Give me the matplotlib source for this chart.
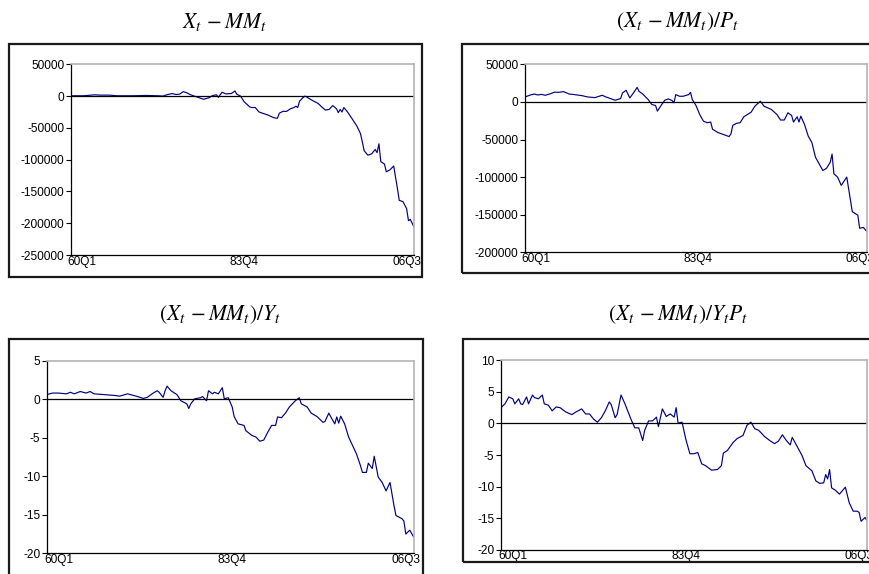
import numpy as np
import matplotlib.pyplot as plt
from matplotlib.patches import Rectangle

plt.rcParams['font.family'] = ['Liberation Sans', 'DejaVu Sans']
plt.rcParams['mathtext.fontset'] = 'stix'

W, H = 870, 574

# quarter index (0 = 60Q1 ... 186 = 06Q3) and values
q1 = [0, 7, 13, 16, 21, 25, 34, 41, 47, 50, 52, 55, 57, 59, 61, 63, 65, 68, 72, 75,
      77, 79, 80, 82, 84, 87, 89, 90, 92, 94, 97, 98, 100, 102, 104, 107, 110, 112,
      113, 115, 117, 119, 121, 122, 123, 124, 126, 127, 129, 131, 134, 136, 138, 140,
      142, 144, 145, 146, 147, 148, 150, 153, 155, 157, 158, 159, 161, 163, 165, 166,
      167, 168, 170, 171, 173, 175, 177, 178, 180, 182, 183, 184, 186]
v1 = [500, 500, 2000, 1500, 1500, 500, 500, 1000, 500, 0, 2000, 4000, 2500, 3000, 7000,
      5000, 2000, -1000, -5000, -2500, 1000, 2000, -2000, 6000, 3500, 4000, 8000, 3000,
      0, -9000, -17000, -18000, -18000, -25000, -27000, -30000, -34000, -35000, -27000,
      -24000, -24000, -20000, -18000, -16000, -18000, -8000, -2000, 0, -3500, -7000,
      -11500, -17000, -22000, -21000, -15000, -20000, -26000, -21000, -25000, -18000,
      -25000, -38000, -47000, -59000, -72000, -86000, -93000, -91000, -84000, -89000,
      -75000, -103000, -107000, -119000, -116000, -110000, -145000, -164000, -166000,
      -177000, -196000, -194000, -206000]

q2 = [0, 3, 5, 7, 9, 11, 14, 16, 18, 21, 24, 27, 31, 34, 38, 42, 44, 47, 49, 52, 53,
      55, 57, 59, 61, 62, 64, 67, 69, 71, 72, 74, 76, 78, 80, 81, 82, 84, 86, 89, 90,
      91, 93, 95, 97, 99, 101, 102, 105, 109, 111, 112, 113, 115, 117, 119, 121, 123,
      125, 127, 128, 130, 134, 137, 139, 141, 143, 145, 146, 148, 149, 150, 152, 154,
      156, 158, 160, 162, 164, 166, 167, 168, 170, 172, 175, 177, 178, 181, 182, 184, 186]
v2 = [6600, 9200, 10500, 9200, 10000, 8800, 11000, 13000, 12700, 13600, 10500, 9700,
      8300, 6600, 5700, 8800, 6600, 4000, 2200, 4400, 11900, 15400, 5300, 11900, 19300,
      14000, 10500, 3100, -3500, -4800, -12300, -4800, 2200, 4000, 1800, -1300, 9700,
      7500, 7500, 9700, 12700, 3100, -4800, -16700, -25500, -27700, -26800, -36400,
      -40800, -44300, -46100, -42600, -31200, -28500, -27700, -19800, -16700, -13600,
      -5700, -1300, 900, -5700, -10100, -16700, -24100, -24100, -14500, -18000, -26800,
      -19800, -26800, -18900, -29900, -45200, -54000, -73700, -82500, -91300, -88200,
      -80300, -69400, -95700, -100000, -111000, -100000, -130800, -146000, -150600,
      -168000, -167000, -172500]

q3 = [0, 3, 6, 10, 12, 14, 17, 20, 22, 24, 29, 34, 37, 41, 46, 49, 51, 54, 56, 57, 59,
      60, 61, 63, 66, 68, 71, 72, 73, 75, 78, 79, 81, 82, 84, 85, 87, 89, 90, 92, 94,
      95, 97, 100, 101, 104, 106, 108, 110, 112, 114, 116, 117, 119, 121, 123, 126,
      128, 129, 132, 134, 137, 140, 141, 143, 144, 146, 147, 148, 149, 151, 153, 155,
      157, 159, 160, 162, 163, 165, 166, 168, 170, 172, 174, 176, 177, 180, 181, 182,
      184, 186]
v3 = [0.6, 0.8, 0.8, 0.7, 0.9, 0.7, 1.0, 0.8, 1.0, 0.7, 0.6, 0.5, 0.4, 0.7, 0.35, 0.1,
      0.25, 0.8, 1.1, 0.9, 0.25, 1.1, 1.7, 1.1, 0.6, -0.2, -0.6, -1.2, -0.6, 0.05, 0.2,
      0.35, -0.2, 1.1, 0.7, 0.9, 0.7, 1.5, 0.05, 0.2, -1.0, -2.25, -3.2, -3.4, -4.1,
      -4.7, -4.9, -5.45, -5.3, -4.3, -3.4, -3.4, -2.3, -2.4, -1.8, -1.0, -0.2, 0.2, -0.6,
      -1.0, -1.8, -2.25, -3.0, -2.9, -1.8, -2.3, -3.2, -2.3, -3.1, -2.2, -3.2, -4.9,
      -6.0, -7.1, -8.6, -9.5, -9.5, -8.3, -9.0, -7.4, -10.1, -10.8, -11.9, -10.8, -13.8,
      -15.1, -15.5, -15.8, -17.5, -17.0, -17.9]

q4 = [0, 2, 4, 6, 7, 9, 10, 11, 13, 14, 16, 17, 19, 21, 22, 24, 26, 28, 30, 33, 36, 38,
      41, 43, 45, 47, 49, 51, 53, 55, 56, 58, 59, 61, 63, 65, 66, 68, 70, 72, 73, 75,
      77, 79, 80, 82, 84, 86, 88, 89, 90, 92, 94, 96, 98, 100, 102, 104, 107, 110, 112,
      113, 115, 118, 120, 123, 125, 127, 129, 131, 134, 137, 139, 141, 143, 145, 147,
      148, 150, 153, 155, 158, 160, 162, 164, 165, 166, 167, 168, 170, 172, 175, 177,
      179, 181, 182, 183, 185, 186]
v4 = [2.5, 3.1, 4.2, 3.9, 3.1, 3.9, 3.1, 3.0, 4.2, 3.1, 4.5, 4.1, 3.9, 4.5, 3.1, 2.9,
      2.0, 2.6, 2.5, 1.8, 1.4, 1.8, 2.3, 1.5, 1.5, 0.7, 0.2, 0.9, 2.0, 3.4, 3.0, 0.9,
      1.4, 4.5, 3.1, 1.5, 0.7, -0.7, -0.7, -2.7, -1.1, 0.4, 0.4, 1.0, -0.5, 2.3, 1.1,
      1.5, 1.0, 2.5, 0.05, 0.2, -2.6, -4.8, -4.8, -4.6, -6.4, -6.7, -7.4, -7.3, -6.7,
      -4.7, -4.3, -3.0, -2.4, -1.9, -0.3, 0.2, -0.85, -1.1, -2.1, -2.8, -3.2, -2.8, -1.8,
      -2.7, -3.4, -2.2, -3.35, -5.1, -6.7, -7.5, -9.1, -9.5, -9.4, -8.1, -8.8, -7.3,
      -10.2, -10.6, -11.2, -10.1, -12.6, -13.9, -13.9, -14.1, -15.5, -14.9, -15.4]

yt1 = [-250000, -200000, -150000, -100000, -50000, 0, 50000]
yt2 = [-200000, -150000, -100000, -50000, 0, 50000]
yt3 = [-20, -15, -10, -5, 0, 5]
yt4 = [-20, -15, -10, -5, 0, 5, 10]

x_labels = ['60Q1', '83Q4', '06Q3']
x_label_pos = [6, 94, 182]

titles = [r'$X_t\,-MM_t$', r'$(X_t\,-MM_t)/P_t$',
          r'$(X_t\,-MM_t)/Y_t$', r'$(X_t\,-MM_t)/Y_tP_t$']


def frac_rect(x0, y0, x1, y1):
    return [x0 / W, 1 - y1 / H, (x1 - x0) / W, (y1 - y0) / H]


def panel(fig, title, q, v, yticks, box, plot, tx, ty):
    r = frac_rect(*box)
    fig.patches.append(Rectangle((r[0], r[1]), r[2], r[3], transform=fig.transFigure,
                                 fill=False, edgecolor='#1a1a1a', lw=1.6))
    fig.text(tx / W, 1 - ty / H, title, ha='center', va='center', fontsize=15.5)

    ax = fig.add_axes(frac_rect(*plot))
    ax.plot(q, v, color='#000080', lw=0.85)
    ax.axhline(0, color='black', lw=0.9)
    ax.set_xlim(0, 186)
    ax.set_ylim(yticks[0], yticks[-1])
    ax.set_yticks(yticks)
    ax.set_yticklabels([str(t) for t in yticks])
    ax.set_xticks(x_label_pos)
    ax.set_xticklabels(x_labels)
    ax.tick_params(axis='x', length=0, pad=0.5, labelsize=8.6)
    ax.tick_params(axis='y', length=3.5, width=0.8, pad=1.2, labelsize=8.6)
    for s in ['top', 'right']:
        ax.spines[s].set_color('#b4b4b4')
        ax.spines[s].set_linewidth(1.2)
    for s in ['left', 'bottom']:
        ax.spines[s].set_color('black')
        ax.spines[s].set_linewidth(0.9)
    return ax


fig = plt.figure(figsize=(W / 100, H / 100), dpi=100)

panel(fig, titles[0], q1, v1, yt1, (9, 44, 422, 277), (70.7, 64.3, 414, 255), 224, 22)
panel(fig, titles[1], q2, v2, yt2, (462, 44, 880, 273), (525, 64.3, 867, 252.3), 677, 22)
panel(fig, titles[2], q3, v3, yt3, (9, 339, 423, 590), (46.7, 360.7, 413.7, 553.3), 220, 315)
panel(fig, titles[3], q4, v4, yt4, (463, 339, 880, 562), (501, 360.3, 867, 549.7), 678, 315)

fig.savefig('out.png', dpi=100)
